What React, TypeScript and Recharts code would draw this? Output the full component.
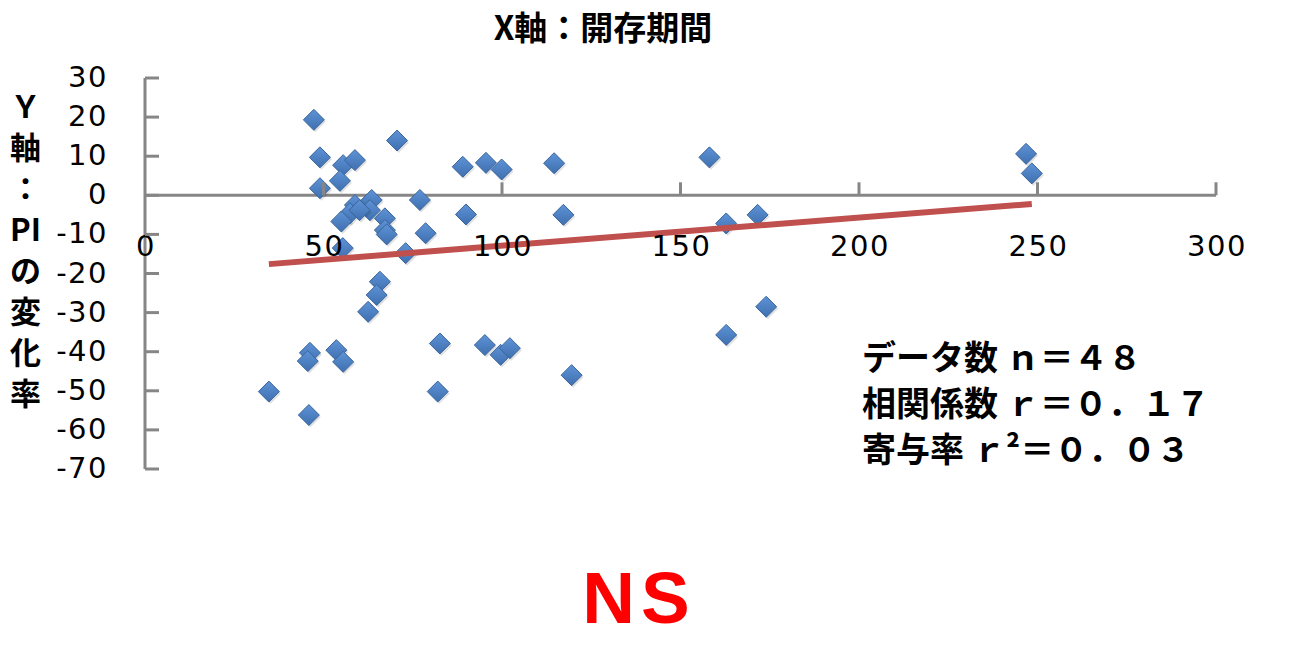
import { ReferenceLine, Scatter, ScatterChart, XAxis, YAxis } from "recharts";

// X: 開存期間, Y: PIの変化率
const patencyDays = [
  47.3, 49.0, 55.5, 58.8, 54.6, 49.0, 70.6, 89.0, 95.5, 99.9, 114.6, 77.0,
  89.9, 117.2, 58.8, 63.5, 63.0, 57.4, 55.0, 67.2, 67.2, 67.7, 55.4, 78.6,
  73.0, 60.1, 65.8, 64.9, 62.5, 46.2, 45.6, 53.6, 55.5, 82.6, 95.2, 99.6,
  102.2, 119.5, 34.7, 82.0, 45.9, 158.1, 162.8, 171.6, 174.0, 162.8, 246.8, 248.4,
];
const piChange = [
  19.3, 9.7, 7.7, 9.0, 3.7, 1.8, 14.0, 7.3, 8.3, 6.6, 8.2, -1.2,
  -4.9, -5.0, -2.5, -1.2, -3.8, -4.6, -6.7, -5.9, -8.9, -10.0, -13.5, -9.7,
  -14.8, -3.8, -22.1, -25.5, -29.8, -40.3, -42.4, -39.6, -42.6, -37.9, -38.3, -40.8,
  -39.1, -46.0, -50.2, -50.2, -56.2, 9.7, -7.2, -5.0, -28.5, -35.7, 10.6, 5.6,
];
const trendX = [34.7, 248.4];
const trendY = [-17.6, -2.2];

const xTicks = [0, 50, 100, 150, 200, 250, 300];
const yTicks = [30, 20, 10, 0, -10, -20, -30, -40, -50, -60, -70];

const titleText = "X軸：開存期間";
const yLabelLines = ["Ｙ", "軸", "：", "PI", "の", "変", "化", "率"];
const statLines = ["データ数 ｎ＝４８", "相関係数 ｒ＝０．１７", "寄与率 ｒ²＝０．０３"];
const verdict = "NS";

const points = patencyDays.map((x, i) => ({ x, y: piChange[i] }));
const trend = trendX.map((x, i) => ({ x, y: trendY[i] }));

const W = 1295;
const H = 646;
const PLOT_TOP = 78;
const PLOT_BOTTOM = 469;
const PLOT_LEFT = 145;
const ZERO_Y = PLOT_TOP + ((PLOT_BOTTOM - PLOT_TOP) * 30) / 100;
const AXIS = "#868686";
const tickFont = { fontFamily: "DejaVu Sans", fontSize: 29, letterSpacing: 1.5, fill: "#000" };
const cjk = "'Noto Sans CJK JP', sans-serif";

function XTick({ x, payload }: any) {
  return (
    <g>
      {payload.value !== 0 && (
        <line x1={x} x2={x} y1={ZERO_Y} y2={ZERO_Y - 13} stroke={AXIS} strokeWidth={3} />
      )}
      <text x={x + 1} y={ZERO_Y + 51} textAnchor="middle" dominantBaseline="central" {...tickFont}>
        {payload.value}
      </text>
    </g>
  );
}

function YTick({ y, payload }: any) {
  return (
    <g>
      <line x1={PLOT_LEFT} x2={PLOT_LEFT + 14} y1={y} y2={y} stroke={AXIS} strokeWidth={3} />
      <text x={108} y={y - 1} textAnchor="end" dominantBaseline="central" {...tickFont}>
        {payload.value}
      </text>
    </g>
  );
}

function Diamond({ cx, cy }: any) {
  const r = 10.5;
  const d = (ox: number, oy: number) =>
    `${cx + ox},${cy + oy - r} ${cx + ox + r},${cy + oy} ${cx + ox},${cy + oy + r} ${cx + ox - r},${cy + oy}`;
  return (
    <g>
      <polygon points={d(1.5, 2)} fill="rgba(0,0,0,0.12)" />
      <polygon points={d(0, 0)} fill="url(#diamondFill)" stroke="#3A659B" strokeWidth={1} />
    </g>
  );
}

export default function App() {
  return (
    <div style={{ position: "absolute", left: 0, top: 0, width: W, height: H, background: "#fff" }}>
      <ScatterChart width={W} height={H} margin={{ top: PLOT_TOP, right: 79, left: 85, bottom: H - PLOT_BOTTOM - 30 }}>
        <defs>
          <linearGradient id="diamondFill" x1="0" y1="0" x2="0" y2="1">
            <stop offset="0%" stopColor="#5E93D6" />
            <stop offset="100%" stopColor="#3F70B0" />
          </linearGradient>
        </defs>
        <XAxis
          type="number"
          dataKey="x"
          domain={[0, 300]}
          ticks={xTicks}
          interval={0}
          axisLine={false}
          tickLine={false}
          tick={<XTick />}
          height={30}
        />
        <YAxis
          type="number"
          dataKey="y"
          domain={[-70, 30]}
          ticks={yTicks}
          interval={0}
          axisLine={{ stroke: AXIS, strokeWidth: 3 }}
          tickLine={false}
          tick={<YTick />}
          width={60}
        />
        <ReferenceLine y={0} stroke={AXIS} strokeWidth={3} />
        <Scatter data={points} shape={<Diamond />} isAnimationActive={false} />
        <Scatter
          data={trend}
          line={{ stroke: "#C0504D", strokeWidth: 6 }}
          shape={() => <g />}
          isAnimationActive={false}
        />
      </ScatterChart>
      <svg width={W} height={H} style={{ position: "absolute", left: 0, top: 0, pointerEvents: "none" }}>
        <text x={603} y={40} textAnchor="middle" fontFamily={cjk} fontWeight={700} fontSize={33}>
          {titleText}
        </text>
        <text x={10} y={118} fontFamily={cjk} fontWeight={700} fontSize={31}>
          {yLabelLines.map((t, i) => (
            <tspan key={t} x={10} dy={i === 0 ? 0 : 41}>
              {t}
            </tspan>
          ))}
        </text>
        <text x={862} y={370} fontFamily={cjk} fontWeight={700} fontSize={34}>
          {statLines.map((t, i) => (
            <tspan key={t} x={862} dy={i === 0 ? 0 : 46}>
              {t}
            </tspan>
          ))}
        </text>
        <text
          x={639}
          y={623}
          textAnchor="middle"
          fontFamily="'Liberation Sans', Arial, sans-serif"
          fontWeight={700}
          fontSize={73}
          letterSpacing={6}
          fill="#FF0000"
        >
          {verdict}
        </text>
      </svg>
    </div>
  );
}
